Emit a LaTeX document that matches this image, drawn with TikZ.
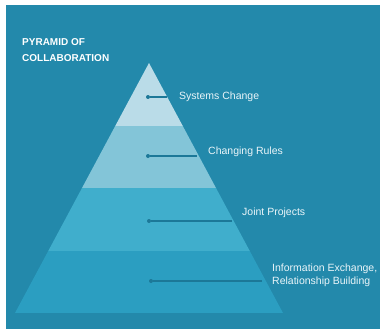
\documentclass[tikz,border=0pt]{standalone}
\usepackage{fontspec}
\setmainfont{Liberation Sans}
\usepackage{tikz}

\definecolor{bgteal}{HTML}{2389AB}
\definecolor{bandA}{HTML}{BADCE8}
\definecolor{bandB}{HTML}{83C5D8}
\definecolor{bandC}{HTML}{40AECC}
\definecolor{bandD}{HTML}{2B9EC1}
\definecolor{pointer}{HTML}{1C7898}
\definecolor{labeltext}{HTML}{EAF5F9}

\tikzset{
  lab/.style={anchor=west, inner sep=0pt, text=labeltext, font=\fontsize{10.5}{13}\selectfont, align=left},
  ptr/.style={pointer, line width=1.1pt},
  dot/.style={circle, fill=pointer, inner sep=0pt, minimum size=4pt}
}

\begin{document}
\begin{tikzpicture}[x=1pt, y=-1pt]
\useasboundingbox (0,0) rectangle (380,329);
\fill[white] (0,0) rectangle (380,329);
\fill[bgteal] (6,5) rectangle (380,329);

\node[anchor=north west, inner sep=0pt, text=white, align=left, font=\bfseries\fontsize{10}{16}\selectfont] (title) at (22,38) {PYRAMID OF\\COLLABORATION};

\begin{scope}
\clip (149,63) -- (283,313) -- (15,313) -- cycle;
\foreach \c [count=\i from 0] in {bandA,bandB,bandC,bandD}
  \fill[\c] (0,{63+62.5*\i}) rectangle (380,{63+62.5*(\i+1)});
\end{scope}

\node[dot] (dot1) at (148,97) {};
\node[dot] (dot2) at (148,156) {};
\node[dot] (dot3) at (149,221) {};
\node[dot] (dot4) at (151,281) {};

\coordinate (end1) at (167,97);
\coordinate (end2) at (197,156);
\coordinate (end3) at (232,221);
\coordinate (end4) at (262,281);

\draw[ptr] (dot1) -- (end1);
\draw[ptr] (dot2) -- (end2);
\draw[ptr] (dot3) -- (end3);
\draw[ptr] (dot4) -- (end4);

\node[lab] (sys) at (179,97) {Systems Change};
\node[lab] (rules) at (208,152) {Changing Rules};
\node[lab] (joint) at (242,213) {Joint Projects};
\node[lab] (info) at (272,275) {Information Exchange,\\Relationship Building};
\end{tikzpicture}
\end{document}
